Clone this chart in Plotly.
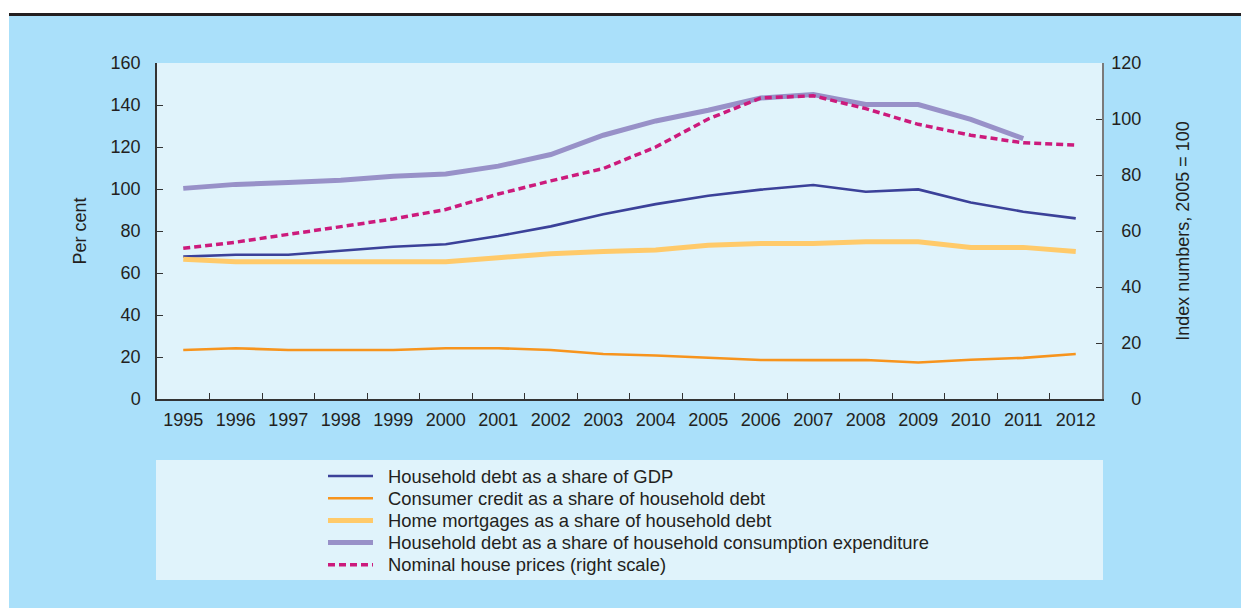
import plotly.graph_objects as go

years = [str(y) for y in range(1995, 2013)]
debt_gdp = [67.8, 68.7, 68.7, 70.6, 72.5, 73.7, 77.6, 82.2, 88.0, 92.8, 96.8, 99.7, 101.9, 98.7, 99.8, 93.6, 89.2, 86.0]
consumer_credit = [23.3, 24.2, 23.3, 23.3, 23.3, 24.2, 24.2, 23.3, 21.4, 20.7, 19.8, 18.6, 18.5, 18.6, 17.4, 18.7, 19.6, 21.4]
mortgages = [66.5, 65.4, 65.4, 65.4, 65.4, 65.4, 67.3, 69.2, 70.2, 71.0, 73.2, 74.1, 74.1, 74.9, 74.9, 72.2, 72.2, 70.2]
debt_consumption = [100.3, 102.2, 103.1, 104.2, 106.1, 107.1, 110.9, 116.4, 125.6, 132.4, 137.5, 143.3, 145.0, 140.2, 140.2, 133.2, 124.0, None]
house_prices = [53.8, 56.0, 58.8, 61.5, 64.3, 67.7, 73.2, 77.9, 82.3, 90.0, 100.0, 107.5, 108.3, 103.7, 98.1, 94.2, 91.5, 90.7]

left_ticks = [0, 20, 40, 60, 80, 100, 120, 140, 160]
right_ticks = [0, 20, 40, 60, 80, 100, 120]

names = [
    "Household debt as a share of GDP",
    "Consumer credit as a share of household debt",
    "Home mortgages as a share of household debt",
    "Household debt as a share of household consumption expenditure",
    "Nominal house prices (right scale)",
]
series = [debt_gdp, consumer_credit, mortgages, debt_consumption, house_prices]
axes = ["y", "y", "y", "y", "y2"]
styles = [
    dict(color="#3b4199", width=2.6),
    dict(color="#f7941d", width=2.6),
    dict(color="#ffca6a", width=5),
    dict(color="#9891c8", width=5),
    dict(color="#cc1a7c", width=3.5, dash="7px,4px"),
]

FONT = "Liberation Sans, Arial, sans-serif"
TXT = "#231f20"
W, H = 1241, 608
L, R, T, B = 157, 1102, 63, 399


def px_x(p):
    return (p - L) / (R - L)


def px_y(p):
    return (B - p) / (B - T)


fig = go.Figure()
for name, vals, ax, st in zip(names, series, axes, styles):
    fig.add_trace(go.Scatter(x=years, y=vals, name=name, mode="lines", yaxis=ax,
                             line=st, showlegend=False))


def fs(n):
    return "\u2007" * n


right_text = [fs(3 - len(str(v))) + str(v) for v in right_ticks]

shapes = [
    dict(type="rect", xref="paper", yref="paper", layer="below",
         x0=px_x(-5), x1=px_x(W + 5), y0=px_y(13.5), y1=px_y(-5),
         fillcolor="#ffffff", line=dict(width=0)),
    dict(type="rect", xref="paper", yref="paper", layer="below",
         x0=px_x(-5), x1=px_x(9), y0=px_y(H + 5), y1=px_y(-5),
         fillcolor="#ffffff", line=dict(width=0)),
    dict(type="line", xref="paper", yref="paper",
         x0=px_x(9), x1=px_x(W + 5), y0=px_y(14.5), y1=px_y(14.5),
         line=dict(color="#231f20", width=3)),
    dict(type="rect", xref="paper", yref="paper", layer="below",
         x0=px_x(156), x1=px_x(1103), y0=px_y(580), y1=px_y(460),
         fillcolor="#e0f3fb", line=dict(width=0)),
]
annotations = []
for i, (name, st) in enumerate(zip(names, styles)):
    yc = 476 + 22.2 * i
    shapes.append(dict(type="line", xref="paper", yref="paper",
                       x0=px_x(328), x1=px_x(373), y0=px_y(yc), y1=px_y(yc),
                       line=st))
    annotations.append(dict(xref="paper", yref="paper", x=px_x(386), y=px_y(yc),
                            xanchor="left", yanchor="middle", showarrow=False,
                            text=name, font=dict(family=FONT, size=18.4, color=TXT)))

fig.update_layout(
    width=W, height=H,
    margin=dict(l=L, r=W - R, t=T, b=H - B, pad=0),
    paper_bgcolor="#aae0fa",
    plot_bgcolor="#e0f3fb",
    font=dict(family=FONT, size=18, color=TXT),
    showlegend=False,
    xaxis=dict(
        type="category", tickson="boundaries", ticks="inside", ticklen=6,
        tickcolor="#333333", showline=True, linecolor="#333333", linewidth=1.5,
        showgrid=False, zeroline=False, tickfont=dict(size=18, color=TXT),
        range=[-0.5, len(years) - 0.5], ticklabelstandoff=4,
    ),
    yaxis=dict(
        range=[0, 160], tickvals=left_ticks, ticks="inside", ticklen=6,
        tickcolor="#333333", showline=True, linecolor="#333333", linewidth=1.5,
        showgrid=False, zeroline=False, ticklabelstandoff=11,
        tickfont=dict(size=18, color=TXT),
        title=dict(text="Per cent", font=dict(size=18, color=TXT), standoff=19),
    ),
    yaxis2=dict(
        range=[0, 120], tickvals=right_ticks, ticktext=right_text, overlaying="y", side="right",
        ticks="inside", ticklen=6, tickcolor="#333333", showline=True,
        linecolor="#7a7a7a", linewidth=1.5, showgrid=False, zeroline=False,
        ticklabelstandoff=4, tickfont=dict(size=18, color=TXT),
        title=dict(text="Index numbers, 2005 = 100", font=dict(size=18, color=TXT), standoff=36),
    ),
    shapes=shapes,
    annotations=annotations,
)

fig.write_html("out.html", config={"displayModeBar": False},
               post_script="document.body.style.margin='0';document.body.style.overflow='hidden';")
